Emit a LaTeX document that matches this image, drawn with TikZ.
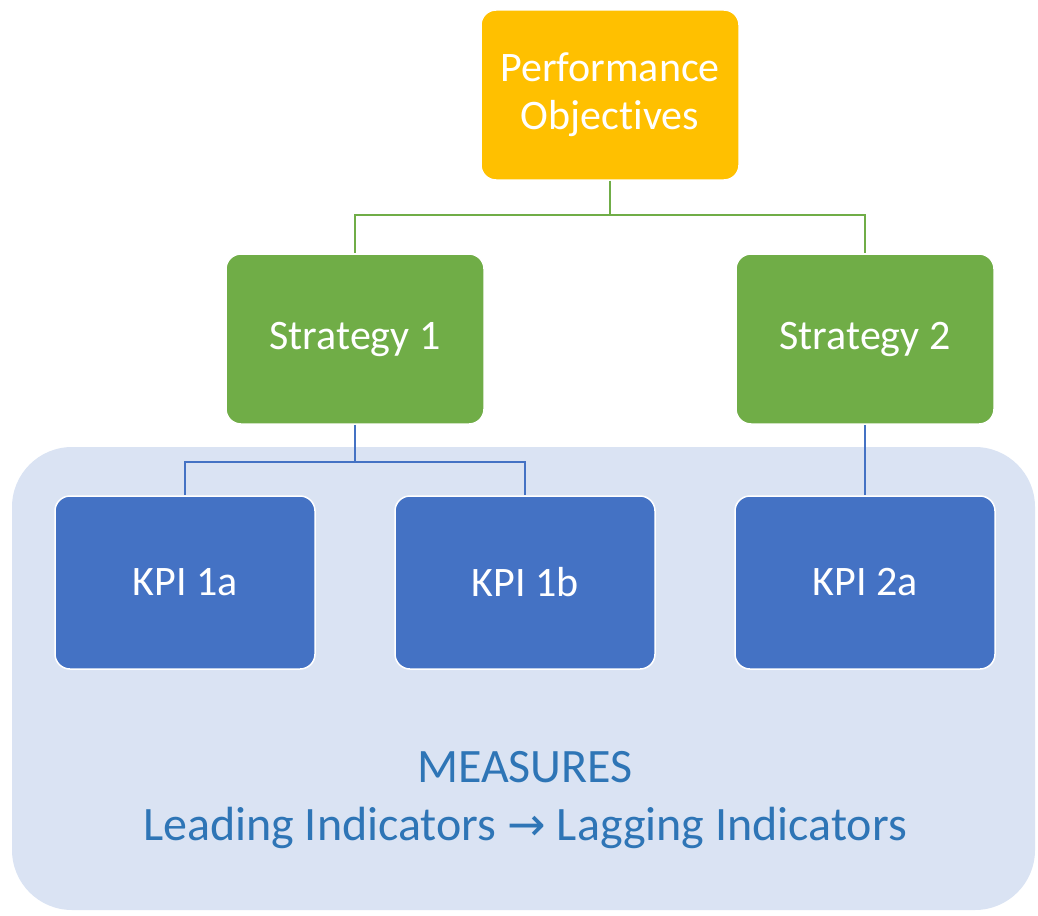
\documentclass[tikz,border=0pt]{standalone}
\usepackage{fontspec}
\setmainfont[Ligatures=NoCommon]{Carlito}
\newfontfamily\symfont{DejaVu Sans}
\definecolor{gold}{HTML}{FFC000}
\definecolor{sgreen}{HTML}{70AD47}
\definecolor{kblue}{HTML}{4472C4}
\definecolor{bgblue}{HTML}{DAE3F3}
\definecolor{tblue}{HTML}{2E75B6}
\newcommand{\bigarr}{{\symfont\fontsize{46}{56}\selectfont →}}
\tikzset{
  box/.style={draw=white, line width=1.5pt, rounded corners=15pt, text=white, align=center,
    font=\fontsize{42}{48}\selectfont, inner sep=0pt},
  obj/.style={box, fill=gold, minimum width=258pt, minimum height=170pt},
  strat/.style={box, fill=sgreen, minimum width=258pt, minimum height=170pt},
  kpi/.style={box, fill=kblue, minimum width=260pt, minimum height=173pt},
  glink/.style={draw=sgreen, line width=2pt},
  blink/.style={draw=kblue, line width=2pt},
  measure/.style={text=tblue, font=\fontsize{48}{56}\selectfont, inner sep=0pt}
}
\begin{document}
\begin{tikzpicture}[x=1pt,y=-1pt]
\useasboundingbox (0,0) rectangle (1038,915);
\fill[bgblue, rounded corners=60pt] (12,447) rectangle (1035,910);
\node[obj] (po) at (610,95) {Performance\\Objectives};
\node[strat] (s1) at (355,339) {Strategy 1};
\node[strat] (s2) at (865,339) {Strategy 2};
\node[kpi] (k1a) at (185,582.5) {KPI 1a};
\node[kpi] (k1b) at (525,582.5) {KPI 1b};
\node[kpi] (k2a) at (865,582.5) {KPI 2a};
\draw[glink] (po.south) -- ++(0,34) -| (s1.north);
\draw[glink] (po.south) -- ++(0,34) -| (s2.north);
\draw[blink] (s1.south) -- ++(0,37) -| (k1a.north);
\draw[blink] (s1.south) -- ++(0,37) -| (k1b.north);
\draw[blink] (s2.south) -- (k2a.north);
\node[measure] (m1) at (525,767) {MEASURES};
\node[measure, anchor=base] (m2) at (525,840) {Leading Indicators \bigarr{} Lagging Indicators};
\end{tikzpicture}
\end{document}
